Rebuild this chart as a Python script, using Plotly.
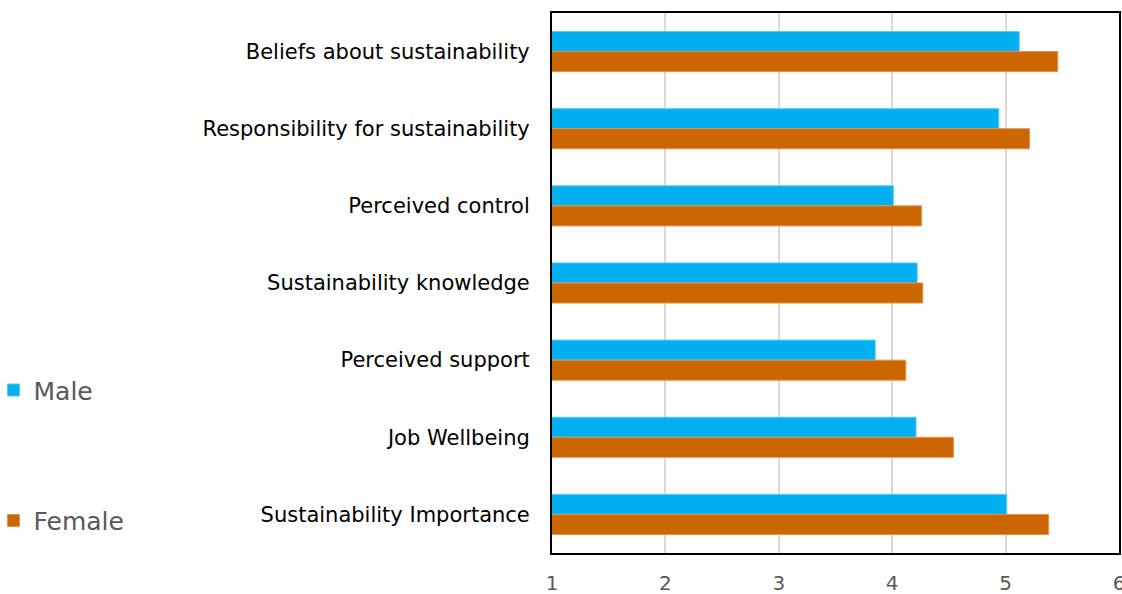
import plotly.graph_objects as go

# Survey constructs, listed top to bottom
categories = [
    "Beliefs about sustainability",
    "Responsibility for sustainability",
    "Perceived control",
    "Sustainability knowledge",
    "Perceived support",
    "Job Wellbeing",
    "Sustainability Importance",
]

# Mean scores by gender
male_scores = [5.12, 4.94, 4.01, 4.22, 3.85, 4.21, 5.01]
female_scores = [5.46, 5.21, 4.26, 4.27, 4.12, 4.54, 5.38]

x_ticks = [1, 2, 3, 4, 5, 6]

FONT = "DejaVu Sans"
MALE_COLOR = "#00B0F0"
FEMALE_COLOR = "#CC6600"

fig = go.Figure()
fig.add_trace(go.Bar(
    y=categories, x=male_scores, orientation="h", name="Male",
    marker=dict(color=MALE_COLOR, line=dict(color="#5cc8f2", width=1)),
    legendgroup="m",
))
fig.add_trace(go.Bar(
    y=categories, x=female_scores, orientation="h", name="Female",
    marker=dict(color=FEMALE_COLOR, line=dict(color="#e0944c", width=1)),
    legendgroup="f",
))

fig.update_layout(
    width=1122, height=594,
    margin=dict(l=552, r=3, t=13, b=41, autoexpand=False),
    paper_bgcolor="white", plot_bgcolor="white",
    barmode="group", bargap=0.48, bargroupgap=0,
    font=dict(family=FONT, color="black"),
    legend=dict(
        xref="paper", yref="paper",
        x=-0.985, y=0.344, xanchor="left", yanchor="top",
        traceorder="grouped", tracegroupgap=95,
        font=dict(family=FONT, size=25, color="#595959"),
        itemwidth=30,
    ),
    xaxis=dict(
        range=[1, 6], tickvals=x_ticks, ticktext=[str(t) for t in x_ticks],
        showgrid=True, gridcolor="#d9d9d9", gridwidth=2,
        showline=True, linecolor="black", linewidth=2, mirror=True,
        ticks="", ticklabelstandoff=11, ticklabeloverflow="allow",
        tickfont=dict(family=FONT, size=20, color="#595959"),
        zeroline=False, automargin=False,
    ),
    yaxis=dict(
        autorange="reversed",
        showline=True, linecolor="black", linewidth=2, mirror=True,
        ticks="", ticklabelstandoff=16,
        tickfont=dict(family=FONT, size=21, color="black"),
        showgrid=False, automargin=False,
    ),
)

fig.write_html("out.html")
